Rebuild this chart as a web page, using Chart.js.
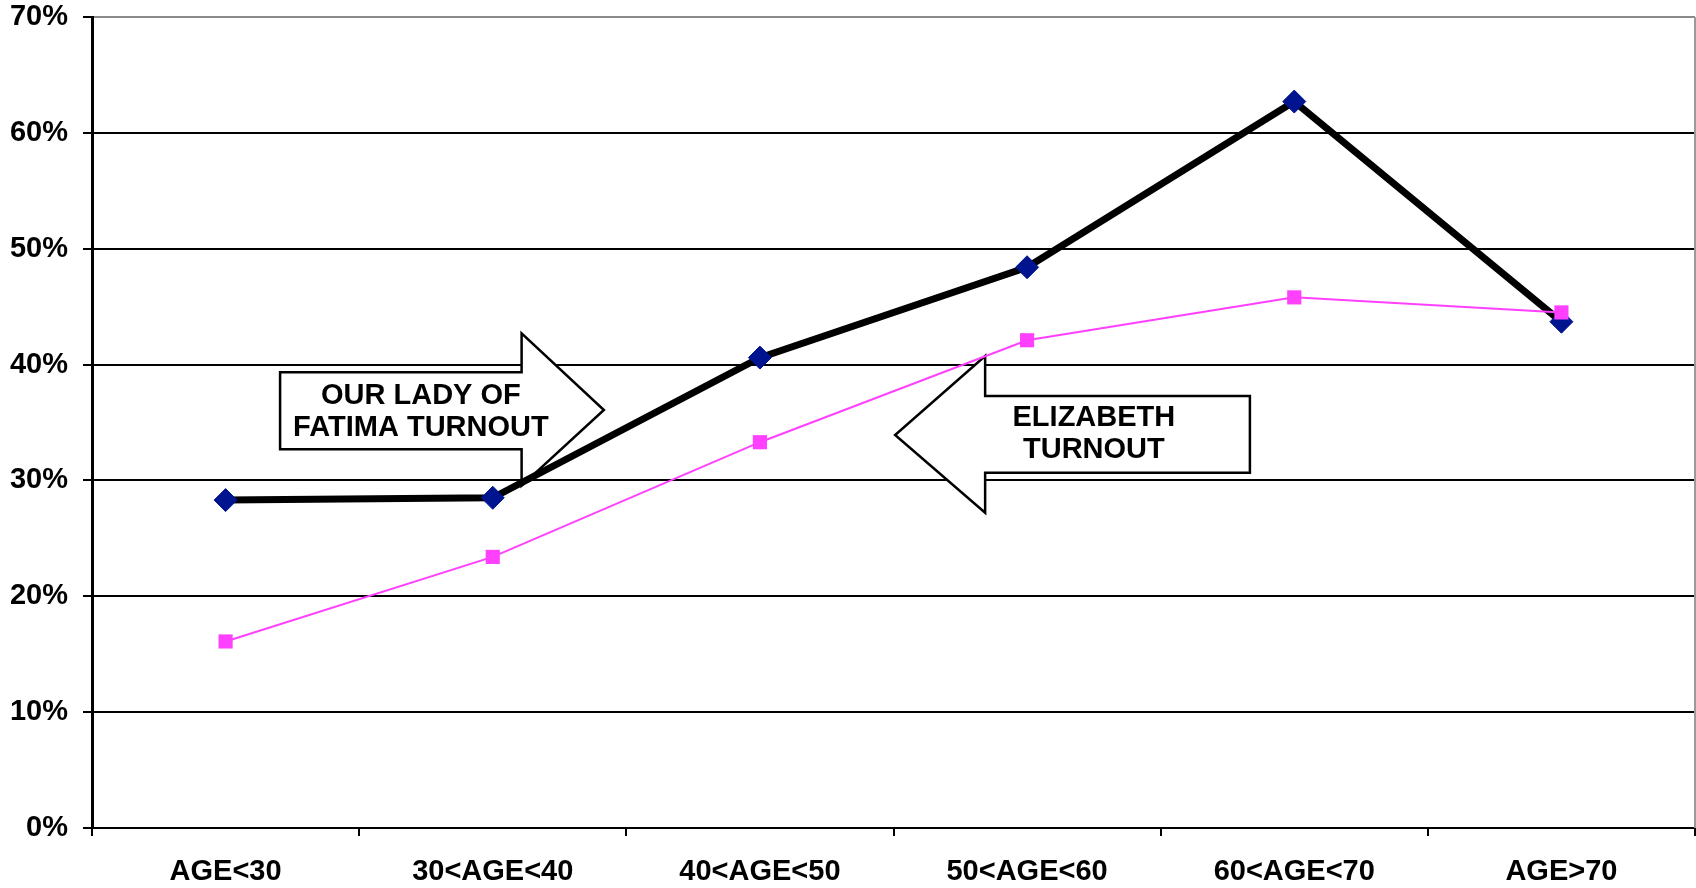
<!DOCTYPE html>
<html><head><meta charset="utf-8">
<script src="https://cdn.jsdelivr.net/npm/chart.js@4"></script>
<style>html,body{margin:0;padding:0;background:#fff;overflow:hidden}#wrap{width:1696px;height:888px}</style>
</head><body><div id="wrap"><canvas id="c" width="1696" height="888"></canvas></div>
<script>
const categories = ['AGE<30', '30<AGE<40', '40<AGE<50', '50<AGE<60', '60<AGE<70', 'AGE>70'];
const fatimaTurnout = [28.3, 28.5, 40.6, 48.4, 62.7, 43.7];
const elizabethTurnout = [16.1, 23.4, 33.3, 42.1, 45.8, 44.5];
const yTicks = [0, 10, 20, 30, 40, 50, 60, 70];
const fatimaLabel = ['OUR LADY OF', 'FATIMA TURNOUT'];
const elizabethLabel = ['ELIZABETH', 'TURNOUT'];

// callout arrows, in axis units (category index, percent)
const fatimaArrow = {dir: 1, tail: 0.204, base: 1.108, tip: 1.416, bodyTop: 39.33, bodyBot: 32.69, headTop: 42.70, headBot: 29.55, tipY: 36.08, textX: 0.731, textY: [37.33, 34.54]};
const elizabethArrow = {dir: -1, tail: 3.834, base: 2.843, tip: 2.506, bodyTop: 37.29, bodyBot: 30.67, headTop: 40.74, headBot: 27.21, tipY: 33.92, textX: 3.25, textY: [35.39, 32.65]};

const FONT = '"Liberation Sans", Arial, sans-serif';
const FSIZE = 29;

const calloutPlugin = {
  id: 'callouts',
  beforeDatasetsDraw(chart) {
    const ctx = chart.ctx, xs = chart.scales.x, ys = chart.scales.y, ca = chart.chartArea;
    ctx.save();
    // plot area right border
    ctx.strokeStyle = '#9a9a9a';
    ctx.lineWidth = 2;
    ctx.beginPath();
    ctx.moveTo(ca.right, ca.top);
    ctx.lineTo(ca.right, ca.bottom);
    ctx.stroke();
    const draw = (a, lines) => {
      const X = v => xs.getPixelForValue(v), Y = v => ys.getPixelForValue(v);
      ctx.beginPath();
      ctx.moveTo(X(a.tail), Y(a.bodyTop));
      ctx.lineTo(X(a.base), Y(a.bodyTop));
      ctx.lineTo(X(a.base), Y(a.headTop));
      ctx.lineTo(X(a.tip), Y(a.tipY));
      ctx.lineTo(X(a.base), Y(a.headBot));
      ctx.lineTo(X(a.base), Y(a.bodyBot));
      ctx.lineTo(X(a.tail), Y(a.bodyBot));
      ctx.closePath();
      ctx.fillStyle = '#ffffff';
      ctx.fill();
      ctx.lineWidth = 2.5;
      ctx.lineJoin = 'miter';
      ctx.strokeStyle = '#000';
      ctx.stroke();
      ctx.fillStyle = '#000';
      ctx.font = 'bold ' + FSIZE + 'px ' + FONT;
      ctx.textAlign = 'center';
      ctx.textBaseline = 'middle';
      lines.forEach((t, i) => ctx.fillText(t, X(a.textX), Y(a.textY[i])));
    };
    draw(fatimaArrow, fatimaLabel);
    draw(elizabethArrow, elizabethLabel);
    ctx.restore();
  }
};

new Chart(document.getElementById('c'), {
  type: 'line',
  data: {
    labels: categories,
    datasets: [
      {
        label: 'OUR LADY OF FATIMA TURNOUT',
        data: fatimaTurnout,
        order: 2,
        borderColor: '#000000',
        borderWidth: 7,
        tension: 0,
        pointStyle: 'rectRot',
        pointRadius: 11.5,
        pointBorderWidth: 1,
        pointBackgroundColor: '#00148F',
        pointBorderColor: '#00148F',
        clip: false
      },
      {
        label: 'ELIZABETH TURNOUT',
        data: elizabethTurnout,
        order: 1,
        borderColor: '#FF40FF',
        borderWidth: 2,
        tension: 0,
        pointStyle: 'rect',
        pointRadius: 10,
        pointBorderWidth: 0,
        pointBackgroundColor: '#FF40FF',
        pointBorderColor: '#FF40FF',
        clip: false
      }
    ]
  },
  options: {
    responsive: false,
    animation: false,
    devicePixelRatio: 1,
    layout: {autoPadding: false, padding: {top: 17, right: 1, left: 0, bottom: 0}},
    plugins: {legend: {display: false}, tooltip: {enabled: false}},
    scales: {
      x: {
        offset: true,
        grid: {display: true, drawOnChartArea: false, drawTicks: true, tickLength: 8, lineWidth: 2, color: '#000', tickColor: '#000', offset: true},
        border: {display: true, color: '#000', width: 2},
        ticks: {color: '#000', font: {family: FONT, size: FSIZE, weight: 'bold'}, padding: 19, maxRotation: 0, autoSkip: false},
        afterFit(s) { s.height = 60; s.paddingLeft = 0; s.paddingRight = 0; s.paddingTop = 0; s.paddingBottom = 0; }
      },
      y: {
        min: 0, max: 70,
        afterBuildTicks(s) { s.ticks = yTicks.map(v => ({value: v})); },
        grid: {
          color: c => (c.tick && c.tick.value === 70) ? '#8a8a8a' : '#000',
          tickColor: '#000',
          lineWidth: 2,
          tickLength: 9,
          drawTicks: true
        },
        border: {display: true, color: '#000', width: 3},
        ticks: {color: '#000', font: {family: FONT, size: FSIZE, weight: 'bold'}, padding: 15, callback: v => v + '%'},
        afterFit(s) { s.width = 92; s.paddingLeft = 0; s.paddingRight = 0; s.paddingTop = 0; s.paddingBottom = 0; }
      }
    }
  },
  plugins: [calloutPlugin]
});
</script>
</body></html>
